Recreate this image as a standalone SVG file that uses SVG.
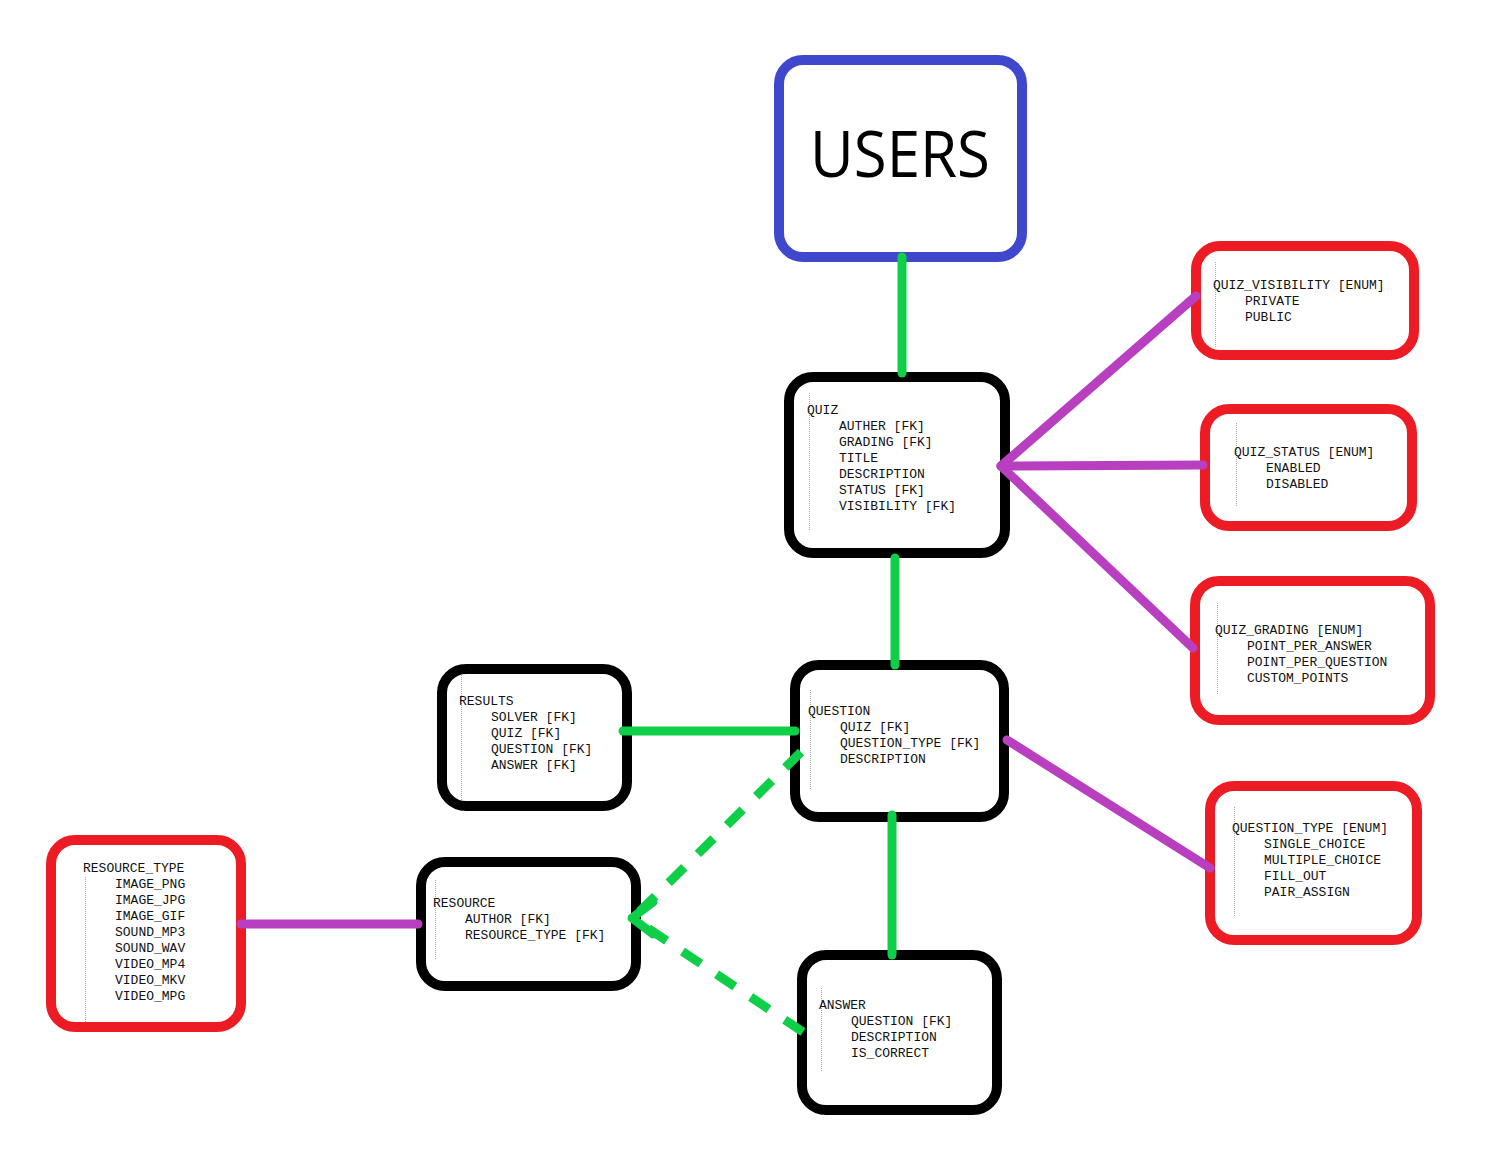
<svg xmlns="http://www.w3.org/2000/svg" width="1486" height="1167" viewBox="0 0 1486 1167">
<style>
.bk{fill:#fff;stroke:#000;stroke-width:10}
.rd{fill:#fff;stroke:#ed1c24;stroke-width:10}
.bl{fill:#fff;stroke:#3f48cc;stroke-width:10}
.t{font-family:"Liberation Mono","Courier New",monospace;font-size:13px;fill:#111}
.g{stroke:#0fcf48;stroke-width:9;stroke-linecap:round;fill:none}
.gd{stroke:#0fcf48;stroke-width:9;fill:none;stroke-dasharray:22 19}
.p{stroke:#b83fc0;stroke-width:9;stroke-linecap:round;fill:none}
.dot{stroke:#aaa;stroke-width:1;stroke-dasharray:1 1}
</style>
<rect width="1486" height="1167" fill="#fff"/>
<g id="users">
<rect class="bl" x="779" y="60" width="243" height="197" rx="24"/>
<text x="900" y="177" text-anchor="middle" font-family="'Open Sans','Noto Sans',sans-serif" font-size="64" fill="#000" textLength="180" lengthAdjust="spacingAndGlyphs">USERS</text>
</g>
<g id="quiz">
<rect class="bk" x="789" y="377" width="216" height="176" rx="24"/>
<line class="dot" x1="809.5" y1="393" x2="809.5" y2="530"/>
<text class="t" x="807" y="414">QUIZ<tspan x="839" dy="16">AUTHER [FK]</tspan><tspan x="839" dy="16">GRADING [FK]</tspan><tspan x="839" dy="16">TITLE</tspan><tspan x="839" dy="16">DESCRIPTION</tspan><tspan x="839" dy="16">STATUS [FK]</tspan><tspan x="839" dy="16">VISIBILITY [FK]</tspan></text>
</g>
<g id="quiz_visibility">
<rect class="rd" x="1196" y="246" width="218" height="109" rx="24"/>
<line class="dot" x1="1215.5" y1="262" x2="1215.5" y2="348"/>
<text class="t" x="1213" y="289">QUIZ_VISIBILITY [ENUM]<tspan x="1245" dy="16">PRIVATE</tspan><tspan x="1245" dy="16">PUBLIC</tspan></text>
</g>
<g id="quiz_status">
<rect class="rd" x="1205" y="409" width="207" height="117" rx="24"/>
<line class="dot" x1="1236.5" y1="423" x2="1236.5" y2="507"/>
<text class="t" x="1234" y="456">QUIZ_STATUS [ENUM]<tspan x="1266" dy="16">ENABLED</tspan><tspan x="1266" dy="16">DISABLED</tspan></text>
</g>
<g id="quiz_grading">
<rect class="rd" x="1195" y="581" width="235" height="139" rx="24"/>
<line class="dot" x1="1217.5" y1="603" x2="1217.5" y2="695"/>
<text class="t" x="1215" y="634">QUIZ_GRADING [ENUM]<tspan x="1247" dy="16">POINT_PER_ANSWER</tspan><tspan x="1247" dy="16">POINT_PER_QUESTION</tspan><tspan x="1247" dy="16">CUSTOM_POINTS</tspan></text>
</g>
<g id="question_type">
<rect class="rd" x="1210" y="786" width="207" height="154" rx="24"/>
<line class="dot" x1="1234.5" y1="807" x2="1234.5" y2="917"/>
<text class="t" x="1232" y="832">QUESTION_TYPE [ENUM]<tspan x="1264" dy="16">SINGLE_CHOICE</tspan><tspan x="1264" dy="16">MULTIPLE_CHOICE</tspan><tspan x="1264" dy="16">FILL_OUT</tspan><tspan x="1264" dy="16">PAIR_ASSIGN</tspan></text>
</g>
<g id="question">
<rect class="bk" x="795" y="665" width="209" height="152" rx="24"/>
<line class="dot" x1="810.5" y1="690" x2="810.5" y2="790"/>
<text class="t" x="808" y="715">QUESTION<tspan x="840" dy="16">QUIZ [FK]</tspan><tspan x="840" dy="16">QUESTION_TYPE [FK]</tspan><tspan x="840" dy="16">DESCRIPTION</tspan></text>
</g>
<g id="results">
<rect class="bk" x="442" y="669" width="185" height="137" rx="24"/>
<line class="dot" x1="461.5" y1="675" x2="461.5" y2="800"/>
<text class="t" x="459" y="705">RESULTS<tspan x="491" dy="16">SOLVER [FK]</tspan><tspan x="491" dy="16">QUIZ [FK]</tspan><tspan x="491" dy="16">QUESTION [FK]</tspan><tspan x="491" dy="16">ANSWER [FK]</tspan></text>
</g>
<g id="answer">
<rect class="bk" x="802" y="955" width="195" height="155" rx="24"/>
<line class="dot" x1="821.5" y1="988" x2="821.5" y2="1072"/>
<text class="t" x="819" y="1009">ANSWER<tspan x="851" dy="16">QUESTION [FK]</tspan><tspan x="851" dy="16">DESCRIPTION</tspan><tspan x="851" dy="16">IS_CORRECT</tspan></text>
</g>
<g id="resource">
<rect class="bk" x="421" y="862" width="215" height="124" rx="24"/>
<line class="dot" x1="435.5" y1="880" x2="435.5" y2="960"/>
<text class="t" x="433" y="907">RESOURCE<tspan x="465" dy="16">AUTHOR [FK]</tspan><tspan x="465" dy="16">RESOURCE_TYPE [FK]</tspan></text>
</g>
<g id="resource_type">
<rect class="rd" x="51" y="840" width="190" height="187" rx="24"/>
<line class="dot" x1="85.5" y1="877" x2="85.5" y2="1022"/>
<text class="t" x="83" y="872">RESOURCE_TYPE<tspan x="115" dy="16">IMAGE_PNG</tspan><tspan x="115" dy="16">IMAGE_JPG</tspan><tspan x="115" dy="16">IMAGE_GIF</tspan><tspan x="115" dy="16">SOUND_MP3</tspan><tspan x="115" dy="16">SOUND_WAV</tspan><tspan x="115" dy="16">VIDEO_MP4</tspan><tspan x="115" dy="16">VIDEO_MKV</tspan><tspan x="115" dy="16">VIDEO_MPG</tspan></text>
</g>
<g id="connectors">
<line class="g" x1="902" y1="257" x2="902" y2="373"/>
<line class="g" x1="895" y1="558" x2="895" y2="665"/>
<line class="g" x1="892" y1="815" x2="892" y2="955"/>
<line class="g" x1="623" y1="731" x2="795" y2="731"/>
<line class="gd" x1="801" y1="752" x2="634" y2="917"/>
<line class="gd" x1="803" y1="1032" x2="634" y2="919"/>
<polyline class="g" points="653,902 632,918 653,934" stroke-linejoin="round"/>
<line class="p" x1="1001" y1="466" x2="1196" y2="296"/>
<line class="p" x1="1001" y1="466" x2="1203" y2="465"/>
<line class="p" x1="1001" y1="466" x2="1193" y2="648"/>
<line class="p" x1="1007" y1="740" x2="1210" y2="868"/>
<line class="p" x1="241" y1="924" x2="418" y2="924"/>
</g>
</svg>
